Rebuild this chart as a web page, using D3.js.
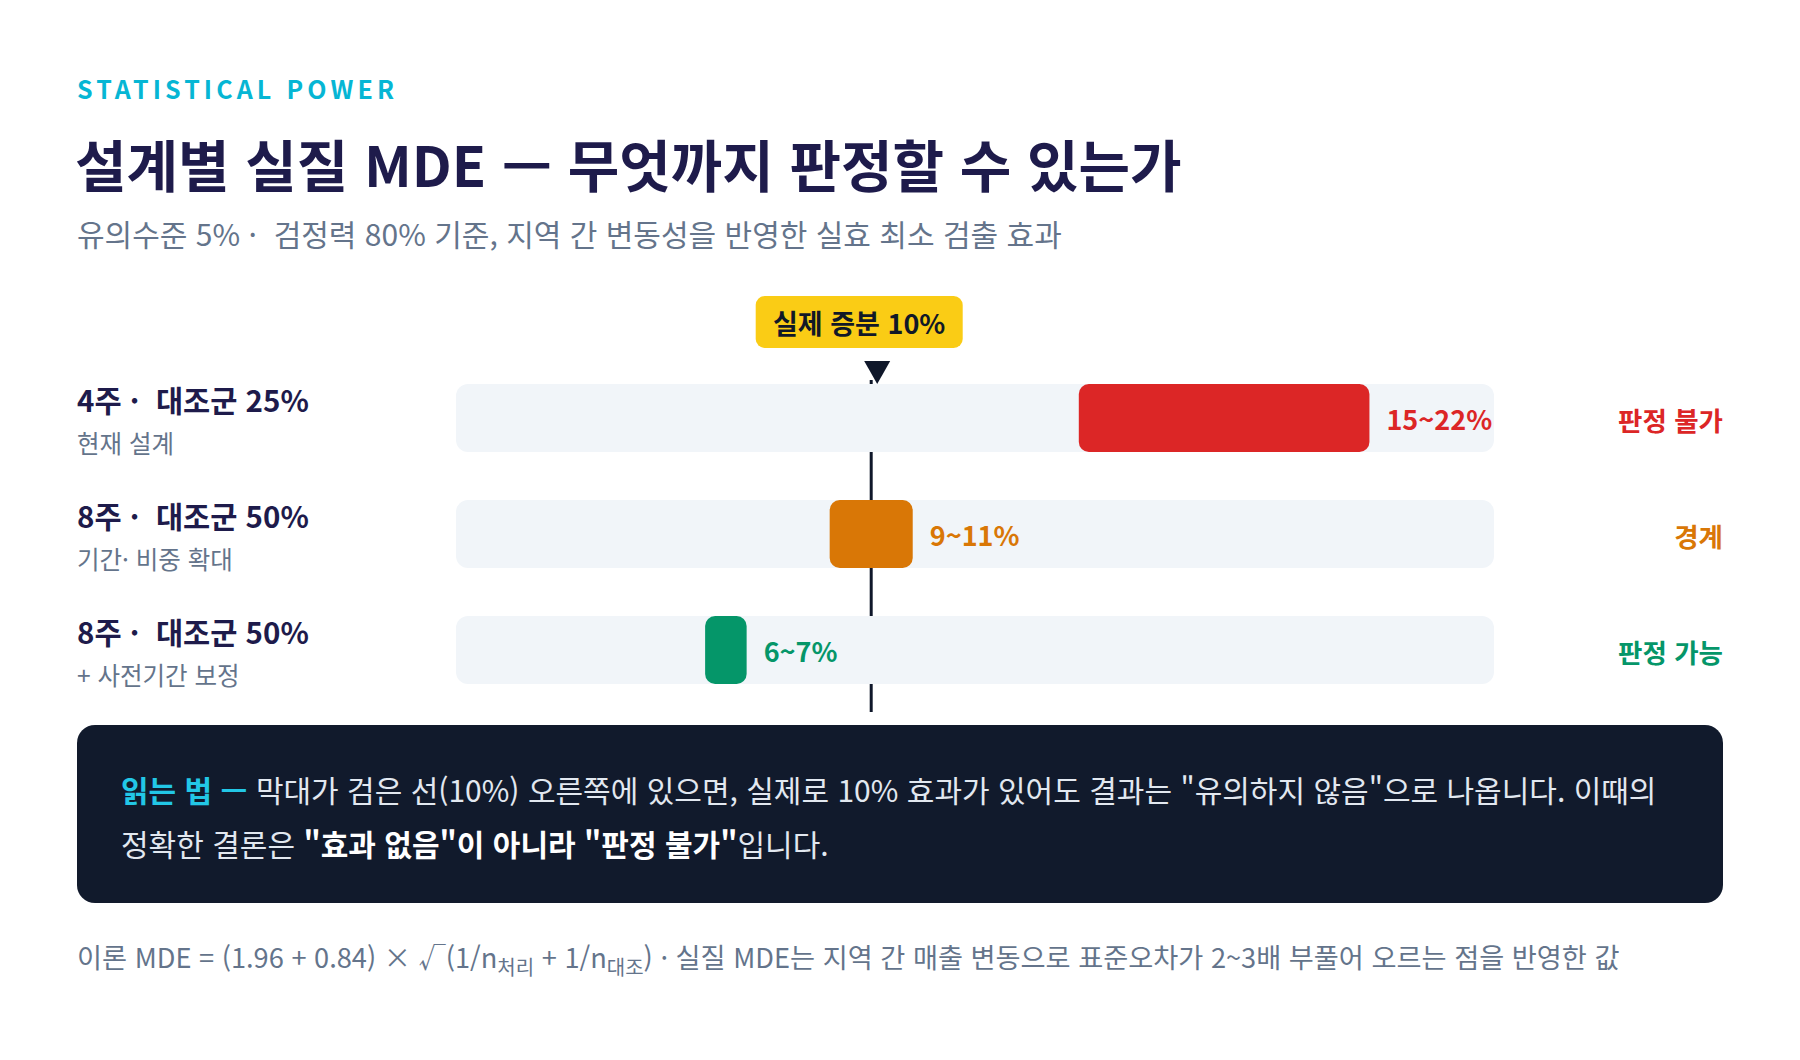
<!DOCTYPE html>
<html lang="ko">
<head>
<meta charset="utf-8">
<script src="https://cdn.jsdelivr.net/npm/d3@7"></script>
<style>
  body { margin: 0; background: #fff; }
  svg text { font-family: "Noto Sans CJK KR", "Noto Sans", sans-serif; white-space: pre; }
</style>
</head>
<body>
<div class="chart"></div>
<script>
// data
var designs = ["4주 ·  대조군 25%", "8주 ·  대조군 50%", "8주 ·  대조군 50%"];
var notes = ["현재 설계", "기간· 비중 확대", "+ 사전기간 보정"];
var mdeLow = [15, 9, 6];
var mdeHigh = [22, 11, 7];
var verdicts = ["판정 불가", "경계", "판정 가능"];
var verdictColors = ["#dc2626", "#d97706", "#059669"];
var trueEffect = 10;
var xMax = 25;

var svgWidth = 1800;
var svgHeight = 1060;

var svg = d3.select(".chart")
  .append("svg")
  .attr("width", svgWidth)
  .attr("height", svgHeight);

var data = designs.map(function(d, i) {
  return { design: d, note: notes[i], lo: mdeLow[i], hi: mdeHigh[i], verdict: verdicts[i], color: verdictColors[i] };
});

// scales
var xScale = d3.scaleLinear().domain([0, xMax]).range([456, 1494]);
var yScale = d3.scaleBand()
  .domain(d3.range(data.length))
  .range([384, 684])
  .paddingInner(48 / 116)
  .paddingOuter(0);
var rowH = yScale.bandwidth();
var rowMid = function(i) { return yScale(i) + rowH / 2; };

// header
svg.append("text")
  .attr("x", 77).attr("y", 99)
  .attr("fill", "#06b6d4")
  .attr("font-size", 25).attr("font-weight", 700)
  .attr("letter-spacing", 4.1)
  .text("STATISTICAL POWER");

svg.append("text")
  .attr("x", 75).attr("y", 187)
  .attr("fill", "#1e1b4b")
  .attr("font-size", 56).attr("font-weight", 700)
  .text("설계별 실질 MDE — 무엇까지 판정할 수 있는가");

svg.append("text")
  .attr("x", 77).attr("y", 246)
  .attr("fill", "#64748b")
  .attr("font-size", 30)
  .text("유의수준 5% ·  검정력 80% 기준, 지역 간 변동성을 반영한 실효 최소 검출 효과");

// reference line (behind tracks)
var xRef = xScale(trueEffect);
svg.append("line")
  .attr("x1", xRef).attr("x2", xRef)
  .attr("y1", 380).attr("y2", 712)
  .attr("stroke", "#0f172a").attr("stroke-width", 3);

// tracks
var rows = svg.selectAll(".row")
  .data(data)
  .enter()
  .append("g")
  .attr("class", "row");

rows.append("rect")
  .attr("x", xScale(0))
  .attr("y", (d, i) => yScale(i))
  .attr("width", xScale(xMax) - xScale(0))
  .attr("height", rowH)
  .attr("rx", 12)
  .attr("fill", "#f1f5f9");

rows.append("rect")
  .attr("x", d => xScale(d.lo))
  .attr("y", (d, i) => yScale(i))
  .attr("width", d => xScale(d.hi) - xScale(d.lo))
  .attr("height", rowH)
  .attr("rx", 10)
  .attr("fill", d => d.color);

rows.append("text")
  .attr("x", d => xScale(d.hi) + 17)
  .attr("y", (d, i) => rowMid(i) + 12)
  .attr("fill", d => d.color)
  .attr("font-size", 27).attr("font-weight", 700)
  .text(d => d.lo + "~" + d.hi + "%");

rows.append("text")
  .attr("x", 1723)
  .attr("y", (d, i) => rowMid(i) + 13)
  .attr("text-anchor", "end")
  .attr("fill", d => d.color)
  .attr("font-size", 26.5).attr("font-weight", 700)
  .text(d => d.verdict);

rows.append("text")
  .attr("x", 77)
  .attr("y", (d, i) => rowMid(i) - 6)
  .attr("fill", "#1e1b4b")
  .attr("font-size", 29.5).attr("font-weight", 700)
  .text(d => d.design);

rows.append("text")
  .attr("x", 77)
  .attr("y", (d, i) => rowMid(i) + 35)
  .attr("fill", "#64748b")
  .attr("font-size", 24.5)
  .text(d => d.note);

// badge + pointer
var badgeW = 207, badgeH = 52;
var badgeCx = xRef - 12;
svg.append("rect")
  .attr("x", badgeCx - badgeW / 2).attr("y", 296)
  .attr("width", badgeW).attr("height", badgeH)
  .attr("rx", 9)
  .attr("fill", "#facc15");

svg.append("text")
  .attr("x", badgeCx).attr("y", 334)
  .attr("text-anchor", "middle")
  .attr("fill", "#111827")
  .attr("font-size", 27).attr("font-weight", 700)
  .text("실제 증분 " + trueEffect + "%");

svg.append("path")
  .attr("d", `M${xRef - 7},361 L${xRef + 19},361 L${xRef + 6},384 Z`)
  .attr("fill", "#0f172a");

// reading note box
svg.append("rect")
  .attr("x", 77).attr("y", 725)
  .attr("width", 1646).attr("height", 178)
  .attr("rx", 18)
  .attr("fill", "#111a2c");

var line1 = svg.append("text")
  .attr("x", 121).attr("y", 802)
  .attr("font-size", 30).attr("fill", "#e2e8f0");
line1.append("tspan").attr("fill", "#22c7e6").attr("font-weight", 700).text("읽는 법 — ");
line1.append("tspan").text("막대가 검은 선(10%) 오른쪽에 있으면, 실제로 10% 효과가 있어도 결과는 \"유의하지 않음\"으로 나옵니다. 이때의");

var line2 = svg.append("text")
  .attr("x", 121).attr("y", 856)
  .attr("font-size", 30).attr("fill", "#e2e8f0");
line2.append("tspan").text("정확한 결론은 ");
line2.append("tspan").attr("font-weight", 700).attr("fill", "#ffffff").text("\"효과 없음\"이 아니라 \"판정 불가\"");
line2.append("tspan").text("입니다.");

// footnote
var foot = svg.append("text")
  .attr("x", 77).attr("y", 968)
  .attr("font-size", 27.2).attr("fill", "#64748b");
foot.append("tspan").text("이론 MDE = (1.96 + 0.84) × √(1/n");
foot.append("tspan").attr("font-size", 20).attr("dy", 7).text("처리");
foot.append("tspan").attr("dy", -7).text(" + 1/n");
foot.append("tspan").attr("font-size", 20).attr("dy", 7).text("대조");
foot.append("tspan").attr("dy", -7).text(") · 실질 MDE는 지역 간 매출 변동으로 표준오차가 2~3배 부풀어 오르는 점을 반영한 값");
</script>
</body>
</html>
